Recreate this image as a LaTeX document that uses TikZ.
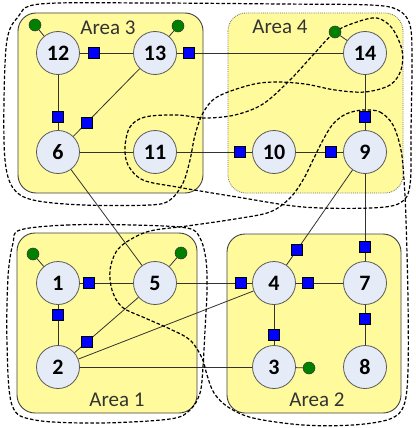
\documentclass[tikz,border=0pt]{standalone}
\usepackage{fontspec}
\setmainfont{Carlito}
\usetikzlibrary{calc}

\definecolor{areafill}{RGB}{255,250,155}
\definecolor{busfill}{RGB}{230,236,247}
\definecolor{pmugreen}{RGB}{0,128,0}

\begin{document}
\begin{tikzpicture}[x=1pt,y=-1pt,
  area/.style={draw=black!75, line width=0.9pt, fill=areafill, rounded corners=18pt},
  bus/.style={circle, draw=black!65, line width=0.8pt, fill=busfill, minimum size=43pt,
    inner sep=0pt, font=\fontsize{22}{22}\selectfont\bfseries},
  link/.style={draw=black!80, line width=0.8pt},
  meter/.style={draw=black, line width=0.5pt, fill=blue, minimum size=11pt, inner sep=0pt},
  pmu/.style={circle, draw=black!80, line width=0.5pt, fill=pmugreen, minimum size=12pt, inner sep=0pt},
  cluster/.style={draw=black, line width=1.2pt, dash pattern=on 3.5pt off 2pt},
  arealabel/.style={font=\fontsize{21}{21}\selectfont, text=black!80}]
  \useasboundingbox (0,0) rectangle (415,428);

  % columns and rows of the buses
  \def\xa{58}  \def\xb{155} \def\xc{274} \def\xd{365}
  \def\ya{53}  \def\yb{152} \def\yc{283} \def\yd{367}

  % areas
  \draw[area] (18,13) rectangle (203,193);
  \draw[area, draw=black!55, densely dotted, line width=0.8pt] (228,13) rectangle (403,193);
  \draw[area] (17,233) rectangle (197,413);
  \draw[area] (227,234) rectangle (401,413);

  \node[arealabel] (lab3) at (108,28) {Area 3};
  \node[arealabel] (lab4) at (280,27) {Area 4};
  \node[arealabel] (lab1) at (117,400) {Area 1};
  \node[arealabel] (lab2) at (317,400) {Area 2};

  % buses
  \node[bus] (n12) at (\xa,\ya) {12};
  \node[bus] (n13) at (\xb,\ya) {13};
  \node[bus] (n14) at (\xd,\ya) {14};
  \node[bus] (n6)  at (\xa,\yb) {6};
  \node[bus] (n11) at (\xb,\yb) {11};
  \node[bus] (n10) at (\xc,\yb) {10};
  \node[bus] (n9)  at (\xd,\yb) {9};
  \node[bus] (n1)  at (\xa,\yc) {1};
  \node[bus] (n5)  at (\xb,\yc) {5};
  \node[bus] (n4)  at (\xc,\yc) {4};
  \node[bus] (n7)  at (\xd,\yc) {7};
  \node[bus] (n2)  at (\xa,\yd) {2};
  \node[bus] (n3)  at (\xc,\yd) {3};
  \node[bus] (n8)  at (\xd,\yd) {8};

  % lines
  \draw[link] (n12) -- (n13);
  \draw[link] (n13) -- (n14);
  \draw[link] (n12) -- (n6);
  \draw[link] (n13) -- (n6);
  \draw[link] (n6) -- (n11);
  \draw[link] (n11) -- (n10);
  \draw[link] (n10) -- (n9);
  \draw[link] (n14) -- (n9);
  \draw[link] (n6) -- (n5);
  \draw[link] (n1) -- (n5);
  \draw[link] (n1) -- (n2);
  \draw[link] (n5) -- (n2);
  \draw[link] (n5) -- (n4);
  \draw[link] (n2) -- (n4);
  \draw[link] (n2) -- (n3);
  \draw[link] (n9) -- (n4);
  \draw[link] (n9) -- (n7);
  \draw[link] (n4) -- (n7);
  \draw[link] (n4) -- (n3);
  \draw[link] (n7) -- (n8);

  % clusters
  \draw[cluster] plot[smooth cycle, tension=0.55] coordinates {
    (40,4) (150,3) (280,4) (370,5) (398,10) (410,25) (412,60) (411,130)
    (410,185) (400,203) (370,208) (303,207) (237,197) (177,187) (143,180)
    (128,165) (125,147) (130,127) (145,117) (177,115) (205,118) (235,115)
    (263,104) (290,80) (313,55) (335,32) (357,22) (377,18) (392,28) (402,50)
    (401,70) (390,85) (365,92) (335,90) (305,84) (275,82) (250,85) (217,97)
    (203,113) (195,135) (190,160) (183,183) (170,200) (150,205) (83,205)
    (33,200) (13,188) (5,160) (4,100) (7,40) (18,17)};
  \draw[cluster] plot[smooth cycle, tension=0.55] coordinates {
    (363,110) (380,112) (393,125) (401,150) (404,180) (406,220) (408,300)
    (408,370) (404,405) (390,419) (353,425) (303,425) (253,418) (228,407)
    (214,393) (207,375) (202,358) (190,340) (170,329) (145,318) (122,307)
    (112,290) (110,270) (116,252) (128,241) (150,231) (187,226) (235,219)
    (270,212) (290,198) (303,180) (313,160) (323,140) (333,124) (346,114)};
  \draw[cluster] plot[smooth cycle, tension=0.55] coordinates {
    (20,230) (67,225) (133,225) (187,228) (200,238) (206,260) (207,290)
    (205,330) (203,367) (200,393) (190,410) (170,419) (100,423) (35,420)
    (12,405) (7,343) (8,277) (13,243)};

  % meters
  \node[meter] (m1213) at ($(n12)!36pt!(n13)$) {};
  \node[meter] (m1314) at ($(n13)!34pt!(n14)$) {};
  \node[meter] (m612)  at ($(n6)!35pt!(n12)$) {};
  \node[meter] (m613)  at ($(n6)!41pt!(n13)$) {};
  \node[meter] (m1011) at ($(n10)!34pt!(n11)$) {};
  \node[meter] (m910)  at ($(n9)!34pt!(n10)$) {};
  \node[meter] (m914)  at ($(n9)!35pt!(n14)$) {};
  \node[meter] (m15)   at ($(n1)!31pt!(n5)$) {};
  \node[meter] (m12)   at ($(n1)!32pt!(n2)$) {};
  \node[meter] (m25)   at ($(n2)!38pt!(n5)$) {};
  \node[meter] (m45)   at ($(n4)!33pt!(n5)$) {};
  \node[meter] (m49)   at ($(n4)!40pt!(n9)$) {};
  \node[meter] (m47)   at ($(n4)!34pt!(n7)$) {};
  \node[meter] (m79)   at ($(n7)!36pt!(n9)$) {};
  \node[meter] (m34)   at ($(n3)!32pt!(n4)$) {};
  \node[meter] (m78)   at ($(n7)!36pt!(n8)$) {};

  % PMUs
  \node[pmu] (g12) at (35,25) {};
  \node[pmu] (g13) at (178,26) {};
  \node[pmu] (g14) at (335,32) {};
  \node[pmu] (g1)  at (33,254) {};
  \node[pmu] (g5)  at (181,253) {};
  \node[pmu] (g3)  at (309,368) {};
  \draw[link] (n12) -- (g12);
  \draw[link] (n13) -- (g13);
  \draw[link] (n14) -- (g14);
  \draw[link] (n1) -- (g1);
  \draw[link] (n5) -- (g5);
  \draw[link] (n3) -- (g3);
\end{tikzpicture}
\end{document}
